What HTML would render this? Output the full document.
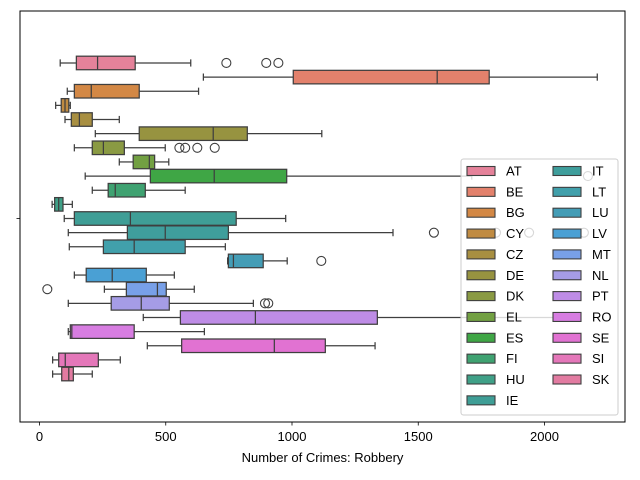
<!DOCTYPE html>
<html><head><meta charset="utf-8"><style>
body{margin:0;background:#fff;}
svg{display:block;font-family:"Liberation Sans","DejaVu Sans",sans-serif;}
</style></head><body>
<svg id="chart" width="640" height="480" viewBox="0 0 640 480"></svg>
<script>
const countries=["AT","BE","BG","CY","CZ","DE","DK","EL","ES","FI","HU","IE","IT","LT","LU","LV","MT","NL","PT","RO","SE","SI","SK"];
const colors=["#e5829a","#e3816c","#d38845","#c08b42","#a88f41","#979340","#8a9a43","#72a042","#3fa645","#3fa271","#3fa087","#3f9e96","#3f9e9c","#41a0ab","#449db6","#4aa0d4","#78a0e8","#a59ce6","#be8ce6","#d77de1","#e172d2","#e477b9","#e27ba1"];
const whiskerLo=[82,649,110,64,101,221,138,316,181,209,50,98,114,118,745,138,257,114,411,114,427,52,52];
const q1=[146,1005,138,86,126,395,209,371,439,272,60,138,348,253,748,185,344,284,558,122,563,76,88];
const median=[230,1575,205,101,158,688,253,435,692,300,76,360,498,375,768,288,467,403,855,128,930,102,116];
const q3=[379,1781,395,116,209,823,336,456,979,419,93,779,748,577,886,423,502,514,1338,375,1132,233,134];
const whiskerHi=[599,2209,630,122,316,1118,498,512,1712,577,130,975,1400,736,981,534,613,847,2038,653,1329,320,209];
const outliers=[[740,898,946],[],[],[],[],[],[554,577,625,694],[],[2172],[],[],[],[1562,1808,1939,2156],[],[1116],[],[31],[893,906],[],[],[],[],[]];
const xTicks=[0,500,1000,1500,2000];

const NS="http://www.w3.org/2000/svg";
const svg=document.getElementById("chart");
const L=20,R=625,T=11,B=422;
const xs=v=>39.5+v*0.2525;
const step=14.14, center=218.5;
const ys=i=>center+(i-(countries.length-1)/2)*step;
const line="#3f3f3f";
function mk(tag,attrs,parent){const e=document.createElementNS(NS,tag);for(const k in attrs)e.setAttribute(k,attrs[k]);(parent||svg).appendChild(e);return e;}

const plot=mk("g",{});


const bh=step-0.6, cap=3.6;
countries.forEach((c,i)=>{
  const y=ys(i);
  const g=mk("g",{},plot);
  
  
  mk("line",{x1:xs(whiskerLo[i]),x2:xs(q1[i]),y1:y,y2:y,stroke:line,"stroke-width":1.25},g);
  mk("line",{x1:xs(q3[i]),x2:xs(whiskerHi[i]),y1:y,y2:y,stroke:line,"stroke-width":1.25},g);
  mk("line",{x1:xs(whiskerLo[i]),x2:xs(whiskerLo[i]),y1:y-cap,y2:y+cap,stroke:line,"stroke-width":1.25},g);
  mk("line",{x1:xs(whiskerHi[i]),x2:xs(whiskerHi[i]),y1:y-cap,y2:y+cap,stroke:line,"stroke-width":1.25},g);
  mk("rect",{x:xs(q1[i]),y:y-bh/2,width:xs(q3[i])-xs(q1[i]),height:bh,fill:colors[i],stroke:line,"stroke-width":1.25},g);
  mk("line",{x1:xs(median[i]),x2:xs(median[i]),y1:y-bh/2,y2:y+bh/2,stroke:line,"stroke-width":1.25},g);
  outliers[i].forEach(v=>{
    const o=mk("circle",{cx:xs(v),cy:y,r:4.5,fill:"none",stroke:line,"stroke-width":1.1},g);
    
    
  });
});

const frame=mk("rect",{x:L,y:T,width:R-L,height:B-T,fill:"none",stroke:"#000","stroke-width":1});


xTicks.forEach(t=>{
  const x=xs(t);
  mk("line",{x1:x,x2:x,y1:B,y2:B+3.5,stroke:"#000","stroke-width":0.8});
  const tx=mk("text",{x:x,y:B+19,"text-anchor":"middle","font-size":"13px",fill:"#000"});
  tx.textContent=t;
  
  
});
mk("line",{x1:L-3.5,x2:L,y1:center,y2:center,stroke:"#000","stroke-width":0.8});
const xl=mk("text",{x:(L+R)/2,y:462,"text-anchor":"middle","font-size":"13px",fill:"#000"});
xl.textContent="Number of Crimes: Robbery";



const lg=mk("g",{});


mk("rect",{x:461,y:159,width:157,height:256,rx:2.5,fill:"#fff","fill-opacity":0.8,stroke:"#cccccc","stroke-width":1},lg);
countries.forEach((c,i)=>{
  const col=i<12?0:1, row=i<12?i:i-12;
  const px=col?553:467, ty=171+row*20.85;
  const e=mk("g",{},lg);
  
  
  mk("rect",{x:px,y:ty-4.5,width:28,height:9,fill:colors[i],stroke:line,"stroke-width":1.1},e);
  const t=mk("text",{x:px+39,y:ty+4.5,"font-size":"13px",fill:"#000"},e);
  t.textContent=c;
});
</script>
</body></html>
